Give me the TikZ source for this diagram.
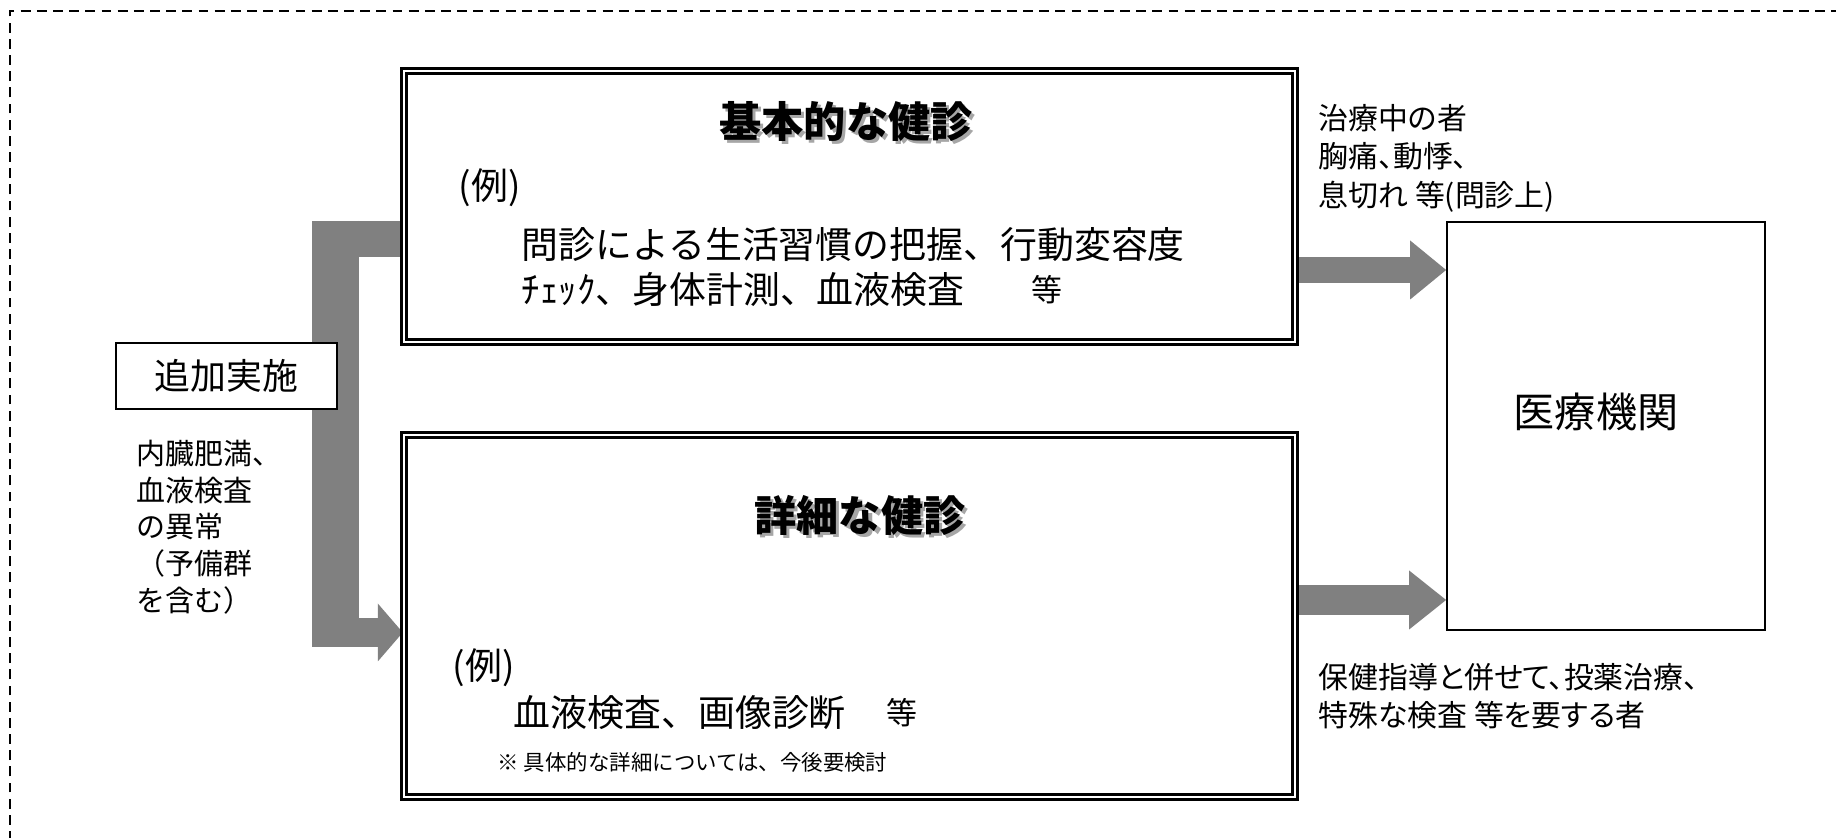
\documentclass[tikz,border=0pt]{standalone}
\usepackage{fontspec}
\setmainfont{Noto Sans CJK JP}
\newfontfamily\propjp[RawFeature=+palt]{Noto Sans CJK JP}
\usetikzlibrary{arrows.meta}
\pgfdeclarelayer{background}
\pgfsetlayers{background,main}

\newcommand{\shadowtitle}[1]{\rlap{\kern0.9pt\raisebox{-0.9pt}{\textcolor{black!35}{#1}}}#1}

\begin{document}
\begin{tikzpicture}[
  dbox/.style={draw,double,double distance=0.75pt,line width=0.7pt,fill=white,inner sep=0pt},
  sbox/.style={draw,line width=0.5pt,fill=white,inner sep=0pt},
  fat/.style={draw=gray,line cap=butt},
  ttl/.style={font=\fontsize{12}{14}\selectfont\bfseries,inner sep=0pt},
  body/.style={font=\fontsize{10.5}{12.8}\selectfont,inner sep=0pt},
  etc/.style={font=\fontsize{8.8}{10}\selectfont,inner sep=0pt},
  lbl/.style={font=\fontsize{8.25}{10.46}\selectfont,align=left,inner sep=0pt},
  plbl/.style={font=\propjp\fontsize{8.5}{10.95}\selectfont,align=left,inner sep=0pt}]

\useasboundingbox (0,0) rectangle (18.36,8.38);
\clip (0,0) rectangle (18.36,8.38);

% FRAME

% Outer dashed frame.
\draw[dash pattern=on 2.8pt off 1.8pt,line width=0.45pt] (0.10,-1) rectangle (19,8.27);

% BOXES

% Basic check-up.
\node[dbox,minimum width=8.91cm,minimum height=2.71cm] (basic) at (8.495,6.315) {};
\node[ttl] (basicttl) at (8.46,7.15) {\shadowtitle{基本的な健診}};
\node[body,anchor=west] (basicex) at (4.58,6.50) {(例)};
\node[body,anchor=west] (basicone) at (5.21,5.93) {問診による生活習慣の把握、行動変容度};
\node[body,anchor=west] (basictwo) at (5.21,5.48) {ﾁｪｯｸ、身体計測、血液検査};
\node[etc] (basicetc) at (10.47,5.48) {等};

% Detailed check-up.
\node[dbox,minimum width=8.91cm,minimum height=3.62cm] (detail) at (8.495,2.22) {};
\node[ttl] (detailttl) at (8.60,3.21) {\shadowtitle{詳細な健診}};
\node[body,anchor=west] (detailex) at (4.52,1.70) {(例)};
\node[body,anchor=west] (detailone) at (5.13,1.25) {血液検査、画像診断};
\node[etc] (detailetc) at (9.02,1.25) {等};
\node[font=\fontsize{6.1}{7}\selectfont,inner sep=0pt,anchor=west] (detailnote) at (4.97,0.76) {※ 具体的な詳細については、今後要検討};

% Medical institution.
\node[sbox,minimum width=3.18cm,minimum height=4.08cm] (clinic) at (16.06,4.12) {};
\node[font=\fontsize{11.7}{14}\selectfont,inner sep=0pt] (clinictxt) at (15.96,4.26) {医療機関};

% Additional.
\node[sbox,minimum width=2.21cm,minimum height=0.66cm,font=\fontsize{10.2}{12}\selectfont] (extra) at (2.265,4.62) {追加実施};

% LABELS

\node[lbl,anchor=west] (extralbl) at (1.36,3.11) {内臓肥満、\\血液検査\\の異常\\（予備群\\を含む）};
\node[plbl,anchor=west] (treatlbl) at (13.18,6.80) {治療中の者\\胸痛、動悸、\\息切れ 等(問診上)};
\node[plbl,anchor=west] (guidelbl) at (13.18,1.42) {保健指導と併せて、投薬治療、\\特殊な検査 等を要する者};

% CONNECTIONS

\begin{pgfonlayer}{background}
% Additional -> basic / detailed.
\draw[fat,line width=0.47cm] (3.355,6.17) -- (3.355,1.91);
\draw[fat,line width=0.36cm] (3.12,5.99) -- (basic.west |- 0,5.99);
\draw[fat,line width=0.29cm,-{Triangle[length=0.25cm,width=0.58cm,line width=0pt]}] (3.12,2.055) -- (detail.west |- 0,2.055);

% Basic / detailed -> medical institution.
\draw[fat,line width=0.26cm,-{Triangle[length=0.36cm,width=0.59cm,line width=0pt]}] (basic.east |- 0,5.68) -- (clinic.west |- 0,5.68);
\draw[fat,line width=0.30cm,-{Triangle[length=0.37cm,width=0.59cm,line width=0pt]}] (detail.east |- 0,2.38) -- (clinic.west |- 0,2.38);
\end{pgfonlayer}

\end{tikzpicture}
\end{document}
